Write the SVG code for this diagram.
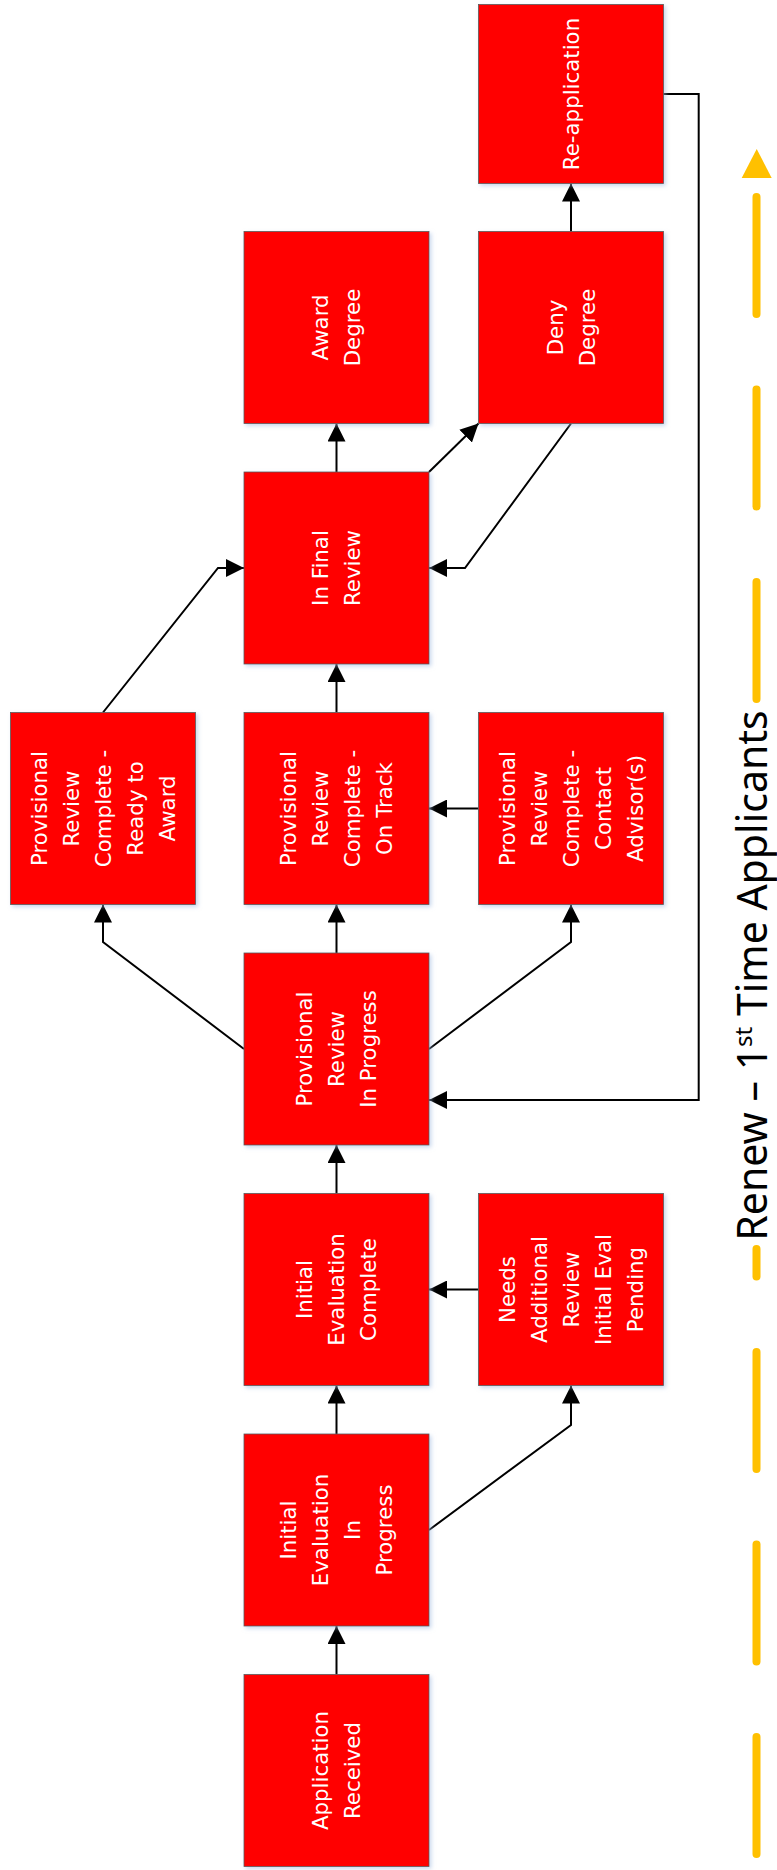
<svg xmlns="http://www.w3.org/2000/svg" width="777" height="1870" viewBox="0 0 777 1870">
<style>
.box{fill:#ff0000;stroke:#5a5a5a;stroke-width:0.8;filter:url(#sh)}
.lbl{font-family:"DejaVu Sans","Verdana",sans-serif;font-size:21.33px;fill:#ffffff;text-anchor:middle}
.con{fill:none;stroke:#000;stroke-width:2;marker-end:url(#ah)}
.dash{stroke:#ffc000;stroke-width:8;stroke-linecap:round}
.title{font-family:"Noto Sans","Open Sans",sans-serif;font-size:41px;fill:#000;text-anchor:middle}
</style>
<defs>
<filter id="sh" x="-10%" y="-10%" width="125%" height="125%">
<feDropShadow dx="2" dy="2" stdDeviation="2" flood-color="#9db8e0" flood-opacity="0.55"/>
</filter>
<marker id="ah" markerUnits="userSpaceOnUse" markerWidth="18" markerHeight="18" refX="18" refY="9" orient="auto" viewBox="0 0 18 18">
<path d="M0,0 L18,9 L0,18 z" fill="#000"/>
</marker>
</defs>
<rect width="777" height="1870" fill="#fff"/>

<g id="timeline">
<line class="dash" x1="756.5" y1="197" x2="756.5" y2="314"/>
<line class="dash" x1="756.5" y1="389.5" x2="756.5" y2="506.5"/>
<line class="dash" x1="756.5" y1="582" x2="756.5" y2="699"/>
<line class="dash" x1="756.5" y1="1249" x2="756.5" y2="1276.5"/>
<line class="dash" x1="756.5" y1="1352" x2="756.5" y2="1469"/>
<line class="dash" x1="756.5" y1="1544.5" x2="756.5" y2="1661.5"/>
<line class="dash" x1="756.5" y1="1737" x2="756.5" y2="1854"/>
<polygon points="756.7,149 771.7,178 741.7,178" fill="#ffc000"/>
<text class="title" transform="translate(767,975.5) rotate(-90)">Renew – 1<tspan dy="-15" font-size="24">st</tspan><tspan dy="15"> Time Applicants</tspan></text>
</g>

<g id="connectors">
<path class="con" d="M336.5,1674.5 V1626"/>
<path class="con" d="M336.5,1434 V1385.5"/>
<path class="con" d="M429,1530 L571,1425 V1385.5"/>
<path class="con" d="M478.5,1289.5 H429"/>
<path class="con" d="M336.5,1193.5 V1145"/>
<path class="con" d="M244,1049 L103,942 V904.5"/>
<path class="con" d="M336.5,953 V904.5"/>
<path class="con" d="M429,1049 L571,942 V904.5"/>
<path class="con" d="M478.5,808.5 H429"/>
<path class="con" d="M336.5,712.5 V664"/>
<path class="con" d="M103,712.5 L218,568 H244"/>
<path class="con" d="M571,423.5 L465,568 H429"/>
<path class="con" d="M429,472 L478.5,423.5"/>
<path class="con" d="M336.5,472 V423.5"/>
<path class="con" d="M571,231.5 V183.5"/>
<path class="con" d="M663,94 H698.7 V1100 H429"/>
</g>

<g id="n-application-received">
<rect class="box" x="244" y="1674.5" width="185" height="192"/>
<text class="lbl" transform="translate(336.5,1770.5) rotate(-90)"><tspan x="0" y="-8.5">Application</tspan><tspan x="0" y="23.5">Received</tspan></text>
</g>
<g id="n-initial-eval-in-progress">
<rect class="box" x="244" y="1434" width="185" height="192"/>
<text class="lbl" transform="translate(336.5,1530) rotate(-90)"><tspan x="0" y="-40.5">Initial</tspan><tspan x="0" y="-8.5">Evaluation</tspan><tspan x="0" y="23.5">In</tspan><tspan x="0" y="55.5">Progress</tspan></text>
</g>
<g id="n-initial-eval-complete">
<rect class="box" x="244" y="1193.5" width="185" height="192"/>
<text class="lbl" transform="translate(336.5,1289.5) rotate(-90)"><tspan x="0" y="-24.5">Initial</tspan><tspan x="0" y="7.5">Evaluation</tspan><tspan x="0" y="39.5">Complete</tspan></text>
</g>
<g id="n-needs-additional-review">
<rect class="box" x="478.5" y="1193.5" width="185" height="192"/>
<text class="lbl" transform="translate(571,1289.5) rotate(-90)"><tspan x="0" y="-56.5">Needs</tspan><tspan x="0" y="-24.5">Additional</tspan><tspan x="0" y="7.5">Review</tspan><tspan x="0" y="39.5">Initial Eval</tspan><tspan x="0" y="71.5">Pending</tspan></text>
</g>
<g id="n-provisional-review-in-progress">
<rect class="box" x="244" y="953" width="185" height="192"/>
<text class="lbl" transform="translate(336.5,1049) rotate(-90)"><tspan x="0" y="-24.5">Provisional</tspan><tspan x="0" y="7.5">Review</tspan><tspan x="0" y="39.5">In Progress</tspan></text>
</g>
<g id="n-ready-to-award">
<rect class="box" x="10.5" y="712.5" width="185" height="192"/>
<text class="lbl" transform="translate(103,808.5) rotate(-90)"><tspan x="0" y="-56.5">Provisional</tspan><tspan x="0" y="-24.5">Review</tspan><tspan x="0" y="7.5">Complete -</tspan><tspan x="0" y="39.5">Ready to</tspan><tspan x="0" y="71.5">Award</tspan></text>
</g>
<g id="n-on-track">
<rect class="box" x="244" y="712.5" width="185" height="192"/>
<text class="lbl" transform="translate(336.5,808.5) rotate(-90)"><tspan x="0" y="-40.5">Provisional</tspan><tspan x="0" y="-8.5">Review</tspan><tspan x="0" y="23.5">Complete -</tspan><tspan x="0" y="55.5">On Track</tspan></text>
</g>
<g id="n-contact-advisors">
<rect class="box" x="478.5" y="712.5" width="185" height="192"/>
<text class="lbl" transform="translate(571,808.5) rotate(-90)"><tspan x="0" y="-56.5">Provisional</tspan><tspan x="0" y="-24.5">Review</tspan><tspan x="0" y="7.5">Complete -</tspan><tspan x="0" y="39.5">Contact</tspan><tspan x="0" y="71.5">Advisor(s)</tspan></text>
</g>
<g id="n-in-final-review">
<rect class="box" x="244" y="472" width="185" height="192"/>
<text class="lbl" transform="translate(336.5,568) rotate(-90)"><tspan x="0" y="-8.5">In Final</tspan><tspan x="0" y="23.5">Review</tspan></text>
</g>
<g id="n-award-degree">
<rect class="box" x="244" y="231.5" width="185" height="192"/>
<text class="lbl" transform="translate(336.5,327.5) rotate(-90)"><tspan x="0" y="-8.5">Award</tspan><tspan x="0" y="23.5">Degree</tspan></text>
</g>
<g id="n-deny-degree">
<rect class="box" x="478.5" y="231.5" width="185" height="192"/>
<text class="lbl" transform="translate(571,327.5) rotate(-90)"><tspan x="0" y="-8.5">Deny</tspan><tspan x="0" y="23.5">Degree</tspan></text>
</g>
<g id="n-re-application">
<rect class="box" x="478.5" y="4.5" width="185" height="179"/>
<text class="lbl" transform="translate(571,94) rotate(-90)"><tspan x="0" y="7.5">Re-application</tspan></text>
</g>
</svg>
